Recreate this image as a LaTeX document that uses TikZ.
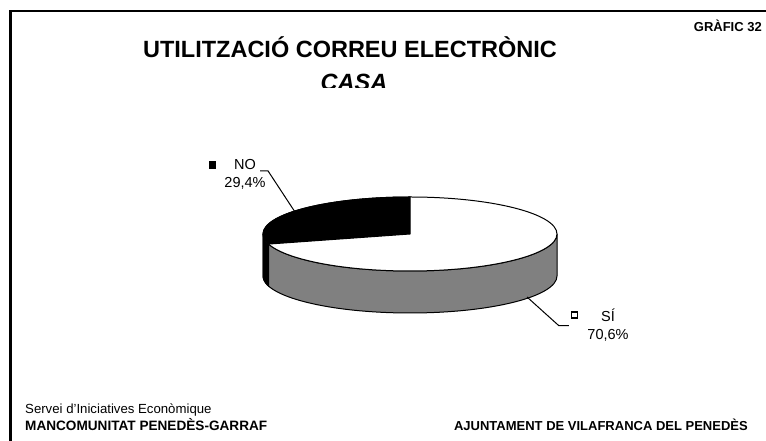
\documentclass[tikz,border=0pt]{standalone}
\usepackage{fontspec}
\setmainfont{Liberation Sans}
\usepackage{tikz}
\usetikzlibrary{positioning}

\begin{document}
\begin{tikzpicture}[x=1pt, y=1pt,
    lbl/.style={inner sep=0pt, font=\fontsize{14.5}{16}\selectfont},
    foot/.style={inner sep=0pt, anchor=base west, font=\fontsize{13.2}{15}\selectfont},
    key/.style={draw, line width=1.2pt, minimum width=6pt, minimum height=6pt, inner sep=0pt}]
  \useasboundingbox (0,0) rectangle (766,441);
  \draw [line width=2.2pt] (10.5,0) -- (10.5,430) -- (766,430);

  % titles
  \node (title) [inner sep=0pt, anchor=base, font=\bfseries\fontsize{23.5}{26}\selectfont] at (350,383) {UTILITZACIÓ CORREU ELECTRÒNIC};
  \begin{scope}
    \clip (300,353) rectangle (420,375);
    \node (casa) [inner sep=0pt, anchor=base, font=\bfseries\itshape\fontsize{23.5}{26}\selectfont] at (354,350) {CASA};
  \end{scope}
  \node (grafic) [inner sep=0pt, anchor=base east, font=\bfseries\fontsize{13}{15}\selectfont] at (762,409) {GRÀFIC 32};

  % pie, side first
  \filldraw [fill=gray, line width=1pt] (263,207) -- ++(0,-42) arc [start angle=180, end angle=360, x radius=147, y radius=37]
    -- ++(0,42) arc [start angle=360, end angle=180, x radius=147, y radius=37] -- cycle;
  \filldraw [fill=black, line width=1pt] (263,207) -- ++(0,-42) arc [start angle=180, end angle=195.8, x radius=147, y radius=37]
    -- ++(0,42) arc [start angle=195.8, end angle=180, x radius=147, y radius=37] -- cycle;
  \filldraw [fill=white, line width=1pt] (410,207) ellipse [x radius=147, y radius=37];
  \filldraw [fill=black, line width=1pt] (410,207) -- (410,244) arc [start angle=90, end angle=195.8, x radius=147, y radius=37] -- cycle;
  \coordinate (notop) at (295,229);
  \coordinate (sipie) at (527,144);

  % labels
  \node (no) [lbl] at (245,276) {NO};
  \node (nopct) [lbl, below=7pt of no] {29,4\%};
  \node (nokey) [key, fill=black, left=18pt of no] {};
  \draw [line width=1pt] (no.east) ++(4,-6) coordinate (nostart) -- ++(8,0) -- (notop);

  \node (si) [lbl] at (608,126) {SÍ};
  \node (sipct) [lbl, below=8pt of si] {70,6\%};
  \node (sikey) [key, fill=white, left=23pt of si] {};
  \draw [line width=1pt] (sikey.south west) ++(-2,-7) coordinate (sistart) -- ++(-10,0) -- (sipie);

  % footer
  \node (servei) [foot] at (25,27) {Servei d\char"0027 Iniciatives Econòmique};
  \node (manc) [foot, font=\bfseries\fontsize{13.6}{15}\selectfont] at (25,10) {MANCOMUNITAT PENEDÈS-GARRAF};
  \node (ajunt) [foot, anchor=base east, font=\bfseries\fontsize{13}{15}\selectfont] at (748,10) {AJUNTAMENT DE VILAFRANCA DEL PENEDÈS};
\end{tikzpicture}
\end{document}
